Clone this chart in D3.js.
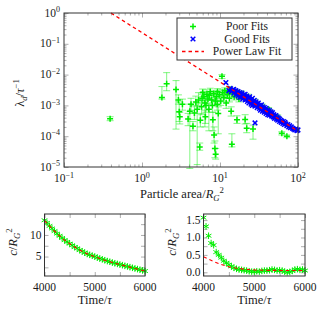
<!DOCTYPE html>
<html>
<head>
<meta charset="utf-8">
<script src="https://cdn.jsdelivr.net/npm/d3@7"></script>
<style>
  body { margin: 0; background: #fff; }
</style>
</head>
<body>
<div id="chart"></div>
<script>
// ---- data ----
// poor fits: [area, lambda, lower error bar end, upper error bar end]
var poorFits = [
    [0.39, 3.7e-4, 3.2e-4, 4.3e-4],
    [1.8, 1.8e-3, 1.6e-3, 4.1e-3],
    [2.07, 5.0e-3, 3.0e-3, 1.16e-2],
    [2.73, 3.3e-3, 1.7e-4, 6.4e-3],
    [2.93, 1.5e-3, 1.1e-3, 2.2e-3],
    [3.0, 6.2e-4, 3.0e-4, 1.3e-3],
    [3.05, 4.3e-4, 2.5e-4, 6.0e-4],
    [3.3, 1.1e-3, 7e-4, 1.6e-3],
    [3.9, 3.6e-4, 2.2e-4, 5.5e-4],
    [4.1, 6.5e-4, 9e-6, 1.1e-3],
    [4.25, 1.1e-3, 7e-4, 1.7e-3],
    [4.5, 2.1e-4, 1.5e-4, 3.0e-4],
    [4.7, 5.7e-4, 3.5e-4, 1.0e-3],
    [4.9, 1.3e-3, 9e-4, 2.0e-3],
    [5.1, 7.5e-4, 1.2e-5, 1.2e-3],
    [5.3, 1.5e-3, 1.0e-3, 2.6e-3],
    [5.5, 4.5e-5, 3.5e-5, 6.0e-5],
    [5.6, 3.3e-4, 2.0e-4, 5.5e-4],
    [5.8, 9e-4, 5e-4, 1.4e-3],
    [5.9, 1.7e-3, 1.2e-3, 2.3e-3],
    [6.0, 2.6e-3, 1.9e-3, 3.4e-3],
    [6.2, 2.0e-3, 1.4e-3, 2.8e-3],
    [6.4, 1.2e-3, 2e-4, 1.8e-3],
    [6.5, 4.3e-4, 2.6e-4, 7e-4],
    [6.6, 1.0e-3, 6e-4, 1.5e-3],
    [6.8, 2.3e-3, 1.7e-3, 3.2e-3],
    [7.0, 1.6e-3, 1.1e-3, 2.3e-3],
    [7.2, 7.5e-4, 1.5e-4, 1.2e-3],
    [7.3, 2.1e-3, 1.5e-3, 2.8e-3],
    [7.5, 2.8e-3, 2.1e-3, 3.6e-3],
    [7.8, 1.5e-3, 1.0e-3, 2.2e-3],
    [8.0, 1.0e-3, 6e-4, 1.6e-3],
    [8.1, 3.4e-4, 1.5e-4, 6e-4],
    [8.3, 2.4e-3, 1.8e-3, 3.1e-3],
    [8.4, 1.1e-4, 6e-5, 2e-4],
    [8.6, 4.0e-5, 2e-5, 7e-5],
    [8.7, 1.4e-3, 1.0e-3, 2.0e-3],
    [8.8, 2.6e-5, 1.8e-5, 4e-5],
    [9.0, 1.9e-3, 1.3e-3, 2.7e-3],
    [9.2, 1.1e-3, 7e-4, 1.7e-3],
    [9.3, 2.8e-3, 2.2e-3, 3.5e-3],
    [9.5, 5.5e-4, 1.2e-4, 9e-4],
    [9.8, 2.2e-3, 1.6e-3, 3.0e-3],
    [10.2, 1.4e-3, 1.0e-3, 2.0e-3],
    [10.6, 8.8e-3, 7.5e-3, 1.0e-2],
    [10.8, 2.6e-3, 2.0e-3, 3.3e-3],
    [11.2, 1.8e-3, 1.3e-3, 2.4e-3],
    [11.5, 3.0e-3, 2.4e-3, 3.7e-3],
    [12.0, 1.2e-3, 8e-4, 1.7e-3],
    [12.4, 2.2e-3, 1.7e-3, 2.9e-3],
    [12.8, 2.8e-3, 2.2e-3, 3.5e-3],
    [13.2, 1.7e-3, 1.3e-3, 2.3e-3],
    [13.4, 3.3e-3, 2.7e-3, 4.0e-3],
    [13.9, 6.5e-4, 4.5e-4, 9e-4],
    [14.2, 5.5e-5, 4.5e-5, 1.2e-4],
    [14.5, 2.4e-3, 1.9e-3, 3.0e-3],
    [15.2, 1.9e-3, 1.5e-3, 2.4e-3],
    [16.0, 2.7e-3, 2.2e-3, 3.3e-3],
    [16.5, 3.4e-4, 2.6e-4, 4.6e-4],
    [17.5, 1.6e-3, 1.3e-3, 2.0e-3],
    [19.0, 2.4e-3, 2.0e-3, 2.9e-3],
    [21.0, 3.5e-4, 2.5e-4, 5e-4],
    [22.0, 1.8e-4, 1.3e-4, 2.6e-4],
    [23.0, 1.9e-3, 1.6e-3, 2.3e-3],
    [26.5, 1.7e-4, 8e-5, 2.3e-4],
    [28.0, 1.3e-3, 1.1e-3, 1.6e-3],
    [35.0, 9.5e-4, 8e-4, 1.1e-3],
    [42.0, 7.5e-4, 6.5e-4, 8.5e-4],
    [55.0, 4.2e-4, 3.6e-4, 4.9e-4],
    [62.0, 1.25e-4, 1.1e-4, 1.4e-4],
    [72.0, 1.0e-4, 9e-5, 1.1e-4]
];

// good fits: [area, lambda]
var goodFits = [
    [11.9, 5.5e-3], [28.1, 2.7e-4],
    [13, 3.0e-3], [13.5, 3.6e-3], [14, 2.8e-3], [14.5, 3.2e-3], [15, 2.5e-3], [15, 3.3e-3],
    [15.5, 2.9e-3], [16, 2.2e-3], [16, 3.0e-3], [16.5, 2.6e-3], [17, 2.0e-3], [17, 2.8e-3],
    [17.5, 2.4e-3], [18, 1.8e-3], [18, 2.6e-3], [18.5, 2.2e-3], [19, 1.9e-3], [19, 2.5e-3],
    [19.5, 1.6e-3], [20, 2.2e-3], [20, 1.8e-3], [20.5, 2.0e-3], [21, 1.5e-3], [21, 2.3e-3],
    [21.5, 1.8e-3], [22, 1.6e-3], [22, 2.0e-3], [22.5, 1.35e-3], [23, 1.8e-3], [23, 1.5e-3],
    [23.5, 1.2e-3], [24, 1.6e-3], [24, 1.9e-3], [24.5, 1.35e-3], [25, 1.1e-3], [25, 1.5e-3],
    [25.5, 1.25e-3], [26, 1.7e-3], [26, 1.0e-3], [27, 1.3e-3], [27, 1.1e-3], [27.5, 1.45e-3],
    [28, 9.5e-4], [28, 1.2e-3], [29, 1.05e-3], [29, 1.3e-3], [30, 8.5e-4], [30, 1.15e-3],
    [31, 9.5e-4], [31, 1.2e-3], [32, 8.0e-4], [32, 1.0e-3], [33, 9.0e-4], [33, 7.0e-4],
    [34, 1.05e-3], [34, 8.0e-4], [35, 6.5e-4], [35, 9.0e-4], [36, 7.5e-4], [37, 8.5e-4],
    [37, 6.0e-4], [38, 7.0e-4], [39, 8.0e-4], [39, 5.5e-4], [40, 6.5e-4], [41, 5.0e-4],
    [41, 7.2e-4], [42, 6.0e-4], [43, 6.8e-4], [43, 4.8e-4], [44, 5.5e-4], [45, 6.2e-4],
    [46, 4.5e-4], [46, 5.2e-4], [47, 5.8e-4], [48, 4.2e-4], [49, 5.0e-4], [50, 4.4e-4],
    [50, 3.8e-4], [52, 4.7e-4], [53, 3.6e-4], [54, 4.2e-4], [55, 3.3e-4], [56, 3.9e-4],
    [58, 3.0e-4], [58, 3.6e-4], [60, 3.3e-4], [61, 2.8e-4], [62, 3.1e-4], [64, 2.6e-4],
    [65, 3.0e-4], [67, 2.4e-4], [68, 2.8e-4], [70, 2.5e-4], [72, 2.2e-4], [74, 2.4e-4],
    [76, 2.0e-4], [78, 2.2e-4], [80, 1.9e-4], [82, 2.0e-4], [85, 1.8e-4], [88, 1.7e-4],
    [91, 1.6e-4], [94, 1.7e-4], [97, 1.5e-4], [100, 1.6e-4]
];

// power law fit lambda = fitA * area^fitB
var fitA = 0.23;
var fitB = -1.6;
var fitRange = [0.4, 100];

var xTickExp = [-1, 0, 1, 2];
var yTickExp = [0, -1, -2, -3, -4, -5];

// bottom panels
var times = [4000, 4050, 4100, 4150, 4200, 4250, 4300, 4350, 4400, 4450,
    4500, 4550, 4600, 4650, 4700, 4750, 4800, 4850, 4900, 4950,
    5000, 5050, 5100, 5150, 5200, 5250, 5300, 5350, 5400, 5450,
    5500, 5550, 5600, 5650, 5700, 5750, 5800, 5850, 5900, 5950, 6000];
var leftC = [13.4, 12.8, 12.1, 11.5, 10.9, 10.3, 9.8, 9.3, 8.8, 8.4,
    8.0, 7.6, 7.2, 6.9, 6.5, 6.2, 5.9, 5.6, 5.4, 5.2,
    5.0, 4.75, 4.55, 4.35, 4.15, 3.95, 3.8, 3.6, 3.45, 3.3,
    3.15, 3.0, 2.85, 2.7, 2.55, 2.4, 2.25, 2.1, 1.95, 1.8, 1.65];
var rightC = [1.57, 1.32, 1.05, 0.84, 0.78, 0.58, 0.50, 0.42, 0.33, 0.27,
    0.22, 0.17, 0.13, 0.10, 0.08, 0.07, 0.06, 0.05, 0.03, 0.02,
    0.02, 0.03, 0.02, 0.04, 0.05, 0.05, 0.06, 0.08, 0.07, 0.05,
    0.06, 0.05, 0.02, 0.00, 0.01, 0.04, 0.08, 0.09, 0.07, 0.08, 0.05];
var fitTimes = [4000, 4100, 4200, 4300, 4400, 4500, 4600, 4700, 4800, 4900, 5000,
    5100, 5200, 5300, 5400, 5500, 5600, 5700, 5800, 5900, 6000];
var leftFit = [13.3, 12.1, 10.9, 9.8, 8.8, 8.0, 7.2, 6.5, 5.9, 5.4, 5.0,
    4.55, 4.15, 3.8, 3.45, 3.15, 2.85, 2.55, 2.25, 1.95, 1.65];
var rightFit = [0.45, 0.38, 0.31, 0.25, 0.2, 0.16, 0.13, 0.11, 0.09, 0.08, 0.07,
    0.065, 0.06, 0.057, 0.055, 0.053, 0.052, 0.051, 0.05, 0.05, 0.05];

var legendItems = ["Poor Fits", "Good Fits", "Power Law Fit"];

// ---- setup ----
var svgWidth = 325;
var svgHeight = 316;
var green = "#00ee00";
var tickColor = "#999";
var serif = "Liberation Serif";

var svg = d3.select("#chart")
    .append("svg")
    .attr("width", svgWidth)
    .attr("height", svgHeight)
    .attr("font-family", serif)
    .attr("fill", "#1a1a1a");

// text with sub/superscripts: parts = [{t, i, sup, sub, dx}]
function richText(g, x, y, parts, anchor, size) {
    var t = g.append("text")
        .attr("x", x)
        .attr("y", y)
        .attr("text-anchor", anchor)
        .attr("font-family", serif)
        .attr("font-size", size);
    var cur = 0;
    parts.forEach(function (p) {
        var shift = p.sup ? -0.38 * size : p.sub ? 0.25 * size : 0;
        var ts = t.append("tspan").text(p.t).attr("dy", shift - cur);
        cur = shift;
        if (p.sup || p.sub) ts.attr("font-size", size * 0.7);
        if (p.i) ts.attr("font-style", "italic");
        if (p.dx) ts.attr("dx", p.dx);
    });
    return t;
}

// ticks on all four sides, pointing inside
function ticks(g, xs, ys, vals, len, side) {
    var r = xs.range(), d = ys.range();
    var ax, tr;
    if (side == "bottom") { ax = d3.axisBottom(xs); tr = `translate(0,${d[0]})`; }
    if (side == "top") { ax = d3.axisTop(xs); tr = `translate(0,${d[1]})`; }
    if (side == "left") { ax = d3.axisLeft(ys); tr = `translate(${r[0]},0)`; }
    if (side == "right") { ax = d3.axisRight(ys); tr = `translate(${r[1]},0)`; }
    var a = g.append("g")
        .attr("transform", tr)
        .call(ax.tickValues(vals).tickSize(-len).tickFormat(""));
    a.select(".domain").remove();
    a.selectAll("line").attr("stroke", tickColor).attr("stroke-width", 0.8);
}

function frame(g, xs, ys) {
    var r = xs.range(), d = ys.range();
    g.append("rect")
        .attr("x", r[0]).attr("y", d[1])
        .attr("width", r[1] - r[0]).attr("height", d[0] - d[1])
        .attr("fill", "none")
        .attr("stroke", "#333")
        .attr("stroke-width", 1);
}

function plusPath(s) { return `M${-s},0H${s}M0,${-s}V${s}`; }
function crossPath(s) { return `M${-s},${-s}L${s},${s}M${-s},${s}L${s},${-s}`; }
function starPath(s) {
    var c = s * Math.cos(Math.PI / 6), h = s / 2;
    return `M0,${-s}V${s}M${-c},${-h}L${c},${h}M${-c},${h}L${c},${-h}`;
}

// ---- main panel ----
var main = svg.append("g");
var xScale = d3.scaleLog().domain([0.1, 100]).range([64, 298]);
var yScale = d3.scaleLog().domain([1e-5, 1]).range([167, 13]);

var xMajor = xTickExp.map(e => Math.pow(10, e));
var yMajor = yTickExp.map(e => Math.pow(10, e));
var xMinor = xScale.ticks().filter(v => xMajor.every(m => Math.abs(m - v) / m > 1e-6));
var yMinor = yScale.ticks().filter(v => yMajor.every(m => Math.abs(m - v) / m > 1e-6));

["bottom", "top"].forEach(function (s) {
    ticks(main, xScale, yScale, xMinor, 2.5, s);
    ticks(main, xScale, yScale, xMajor, 4.5, s);
});
["left", "right"].forEach(function (s) {
    ticks(main, xScale, yScale, yMinor, 2.5, s);
    ticks(main, xScale, yScale, yMajor, 4.5, s);
});

var plotArea = main.append("g");

// error bars
var eb = plotArea.append("g")
    .attr("stroke", green)
    .attr("stroke-opacity", 0.45)
    .attr("stroke-width", 1.1);
poorFits.forEach(function (d) {
    var x = xScale(d[0]);
    eb.append("line").attr("x1", x).attr("x2", x).attr("y1", yScale(d[2])).attr("y2", yScale(d[3]));
    eb.append("line").attr("x1", x - 3.5).attr("x2", x + 3.5).attr("y1", yScale(d[2])).attr("y2", yScale(d[2]));
    eb.append("line").attr("x1", x - 3.5).attr("x2", x + 3.5).attr("y1", yScale(d[3])).attr("y2", yScale(d[3]));
});

plotArea.selectAll(".poor")
    .data(poorFits)
    .enter()
    .append("path")
    .attr("class", "poor")
    .attr("transform", d => `translate(${xScale(d[0])},${yScale(d[1])})`)
    .attr("d", plusPath(3))
    .attr("stroke", green)
    .attr("stroke-width", 1.5)
    .attr("fill", "none");

plotArea.selectAll(".good")
    .data(goodFits)
    .enter()
    .append("path")
    .attr("class", "good")
    .attr("transform", d => `translate(${xScale(d[0])},${yScale(d[1])})`)
    .attr("d", crossPath(2.3))
    .attr("stroke", "#0000ff")
    .attr("stroke-width", 1.5)
    .attr("fill", "none");

var fitLine = d3.line()
    .x(d => xScale(d))
    .y(d => yScale(fitA * Math.pow(d, fitB)));
plotArea.append("path")
    .datum(fitRange)
    .attr("d", fitLine)
    .attr("stroke", "#ff0000")
    .attr("stroke-width", 1.3)
    .attr("stroke-dasharray", "3.5,3")
    .attr("fill", "none");

frame(main, xScale, yScale);

// tick labels
xTickExp.forEach(function (e) {
    richText(main, xScale(Math.pow(10, e)), 182,
        [{ t: "10" }, { t: e < 0 ? "\u2212" + (-e) : "" + e, sup: true }], "middle", 11.5);
});
yTickExp.forEach(function (e) {
    richText(main, 60, yScale(Math.pow(10, e)) + 3.5,
        [{ t: "10" }, { t: e < 0 ? "\u2212" + (-e) : "" + e, sup: true }], "end", 11.5);
});

richText(main, 182, 198, [
    { t: "Particle area/" }, { t: "R", i: true }, { t: "G", i: true, sub: true },
    { t: "2", sup: true }], "middle", 12.5);

richText(main.append("g").attr("transform", "translate(24,93) rotate(-90)"), 0, 0, [
    { t: "\u03bb" }, { t: "d", i: true, sub: true }, { t: "/" }, { t: "\u03c4", i: true },
    { t: "\u22121", sup: true }], "middle", 12.5);

// legend
var legend = main.append("g");
legend.append("rect")
    .attr("x", 177).attr("y", 18)
    .attr("width", 115).attr("height", 42)
    .attr("fill", "#fff")
    .attr("stroke", "#333")
    .attr("stroke-width", 1);
var legendY = [26.5, 39, 51.5];
legend.append("path").attr("transform", `translate(193,${legendY[0]})`)
    .attr("d", plusPath(3)).attr("stroke", green).attr("stroke-width", 1.5);
legend.append("path").attr("transform", `translate(193,${legendY[1]})`)
    .attr("d", crossPath(2.3)).attr("stroke", "#0000ff").attr("stroke-width", 1.5);
legend.append("line")
    .attr("x1", 182).attr("x2", 204).attr("y1", legendY[2]).attr("y2", legendY[2])
    .attr("stroke", "#ff0000").attr("stroke-width", 1.3).attr("stroke-dasharray", "3.5,3");
legendItems.forEach(function (name, i) {
    legend.append("text")
        .attr("x", 247).attr("y", legendY[i] + 3.8)
        .attr("text-anchor", "middle")
        .attr("font-family", serif)
        .attr("font-size", 11.5)
        .text(name);
});

// ---- bottom panels ----
function timePanel(left, right, yDomain, yMajorV, yMinorV, yLabels, values, fitValues, labelX) {
    var g = svg.append("g");
    var xs = d3.scaleLinear().domain([4000, 6000]).range([left, right]);
    var ys = d3.scaleLinear().domain(yDomain).range([276, 214]);
    var xTicks = [4000, 4500, 5000, 5500, 6000];

    ["bottom", "top"].forEach(s => ticks(g, xs, ys, xTicks, 4, s));
    ["left", "right"].forEach(s => ticks(g, xs, ys, yMinorV, 4, s));

    var data = times.map((t, i) => [t, values[i]]);
    g.selectAll(".pt")
        .data(data)
        .enter()
        .append("path")
        .attr("class", "pt")
        .attr("transform", d => `translate(${xs(d[0])},${ys(d[1])})`)
        .attr("d", starPath(3.3))
        .attr("stroke", green)
        .attr("stroke-width", 1)
        .attr("fill", "none");

    var line = d3.line().x(d => xs(d[0])).y(d => ys(d[1]));
    g.append("path")
        .datum(fitTimes.map((t, i) => [t, fitValues[i]]))
        .attr("d", line)
        .attr("stroke", "#ff0000")
        .attr("stroke-width", 1.1)
        .attr("stroke-dasharray", "3.5,3")
        .attr("fill", "none");

    frame(g, xs, ys);

    [4000, 5000, 6000].forEach(function (t) {
        g.append("text")
            .attr("x", xs(t)).attr("y", 291)
            .attr("text-anchor", "middle")
            .attr("font-family", serif)
            .attr("font-size", 11.5)
            .text(t);
    });
    yMajorV.forEach(function (v, i) {
        g.append("text")
            .attr("x", left - 3).attr("y", ys(v) + 3.8)
            .attr("text-anchor", "end")
            .attr("font-family", serif)
            .attr("font-size", 11.5)
            .text(yLabels[i]);
    });

    richText(g, (left + right) / 2, 304, [{ t: "Time/" }, { t: "\u03c4", i: true }], "middle", 12.5);
    richText(g.append("g").attr("transform", `translate(${labelX},242) rotate(-90)`), 0, 0, [
        { t: "c", i: true }, { t: "/" }, { t: "R", i: true }, { t: "G", i: true, sub: true },
        { t: "2", sup: true }], "middle", 12.5);
}

timePanel(44.5, 145, [0.5, 14.85], [5, 10], [2.5, 5, 7.5, 10, 12.5], ["5", "10"],
    leftC, leftFit, 17);
timePanel(203.5, 305, [-0.106, 1.675], [0, 0.5, 1.0, 1.5], [0, 0.25, 0.5, 0.75, 1.0, 1.25, 1.5],
    ["0.0", "0.5", "1.0", "1.5"], rightC, rightFit, 176);
</script>
</body>
</html>
